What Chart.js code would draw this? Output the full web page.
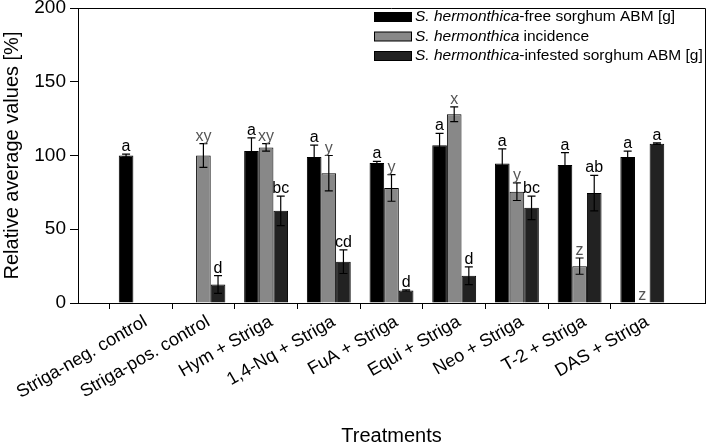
<!DOCTYPE html>
<html>
<head>
<meta charset="utf-8">
<script src="https://cdn.jsdelivr.net/npm/chart.js@4"></script>
<style>
  html, body { margin: 0; padding: 0; background: #fff; }
  #wrap { width: 708px; height: 446px; }
</style>
</head>
<body>
<div id="wrap"><canvas id="chart"></canvas></div>
<script>
const treatments = ['Striga-neg. control', 'Striga-pos. control', 'Hym + Striga', '1,4-Nq + Striga',
  'FuA + Striga', 'Equi + Striga', 'Neo + Striga', 'T-2 + Striga', 'DAS + Striga'];

const freeABM = [100, null, 103, 99, 95, 107, 94.5, 93.5, 99];
const freeErr = [1, null, 9, 8, 1, 8, 10, 8.5, 4];
const freeLetters = ['a', '', 'a', 'a', 'a', 'a', 'a', 'a', 'a'];

const incidence = [null, 100, 105.5, 88, 78, 128, 75.5, 25, 0];
const incErr = [null, 8, 2.5, 12, 9, 5, 6, 5.5, 0];
const incLetters = ['', 'xy', 'xy', 'y', 'y', 'x', 'y', 'z', 'z'];

const infestedABM = [null, 12.5, 62.5, 28, 8.5, 18.5, 64.5, 74.5, 108];
const infErr = [null, 6, 10, 8, 0.5, 6, 8, 12, 0.5];
const infLetters = ['', 'd', 'bc', 'cd', 'd', 'd', 'bc', 'ab', 'a'];

const yTicks = [0, 50, 100, 150, 200];

const legendItems = [
  { color: '#000000', italic: 'S. hermonthica', rest: '-free sorghum ABM [g]' },
  { color: '#888888', italic: 'S. hermonthica', rest: ' incidence' },
  { color: '#222222', italic: 'S. hermonthica', rest: '-infested sorghum ABM [g]' }
];

// pad with an empty slot at each end so the groups sit like the original
const pad = arr => [null, ...arr, null];
const FONT = '"Liberation Sans", Arial, sans-serif';

const errs = [freeErr, incErr, infErr];
const letters = [freeLetters, incLetters, infLetters];
const letterColors = ['#000', '#555', '#000'];

const extras = {
  id: 'extras',
  afterDatasetsDraw(chart) {
    const { ctx, chartArea: a, scales: { y } } = chart;
    ctx.save();
    chart.data.datasets.forEach((ds, di) => {
      const meta = chart.getDatasetMeta(di);
      meta.data.forEach((bar, i) => {
        const k = i - 1;
        if (k < 0 || k >= treatments.length) return;
        const v = ds.data[i];
        if (v === null || v === undefined) return;
        const e = errs[di][k] || 0;
        const x = bar.x;
        const yTop = y.getPixelForValue(v + e);
        if (e > 0) {
          const yBot = y.getPixelForValue(v - e);
          ctx.strokeStyle = '#000';
          ctx.lineWidth = 1.2;
          ctx.beginPath();
          ctx.moveTo(x, yTop); ctx.lineTo(x, yBot);
          ctx.moveTo(x - 4, yTop); ctx.lineTo(x + 4, yTop);
          ctx.moveTo(x - 4, yBot); ctx.lineTo(x + 4, yBot);
          ctx.stroke();
        }
        const txt = letters[di][k];
        if (txt) {
          ctx.fillStyle = letterColors[di];
          ctx.font = '16px ' + FONT;
          ctx.textAlign = 'center';
          ctx.textBaseline = 'alphabetic';
          ctx.fillText(txt, x, Math.min(yTop, y.getPixelForValue(v)) - 3);
        }
      });
    });

    // frame on top and right
    ctx.strokeStyle = '#000';
    ctx.lineWidth = 1;
    ctx.beginPath();
    ctx.moveTo(a.left, a.top + 0.5); ctx.lineTo(a.right + 0.5, a.top + 0.5);
    ctx.lineTo(a.right + 0.5, a.bottom);
    ctx.stroke();

    // legend with italic species name
    legendItems.forEach((it, i) => {
      const cy = 17 + i * 19.5;
      ctx.fillStyle = it.color;
      ctx.fillRect(374, cy - 4.5, 37, 9);
      ctx.strokeStyle = '#000';
      ctx.strokeRect(374.5, cy - 4.5, 37, 9);
      ctx.fillStyle = '#000';
      ctx.textAlign = 'left';
      ctx.textBaseline = 'middle';
      ctx.font = 'italic 15.5px ' + FONT;
      ctx.fillText(it.italic, 415, cy);
      const w = ctx.measureText(it.italic).width;
      ctx.font = '15.5px ' + FONT;
      ctx.fillText(it.rest, 415 + w, cy);
    });
    ctx.restore();
  }
};

new Chart(document.getElementById('chart'), {
  type: 'bar',
  data: {
    labels: ['', ...treatments, ''],
    datasets: [
      { label: 'free', data: pad(freeABM), backgroundColor: '#000000' },
      { label: 'incidence', data: pad(incidence), backgroundColor: '#888888' },
      { label: 'infested', data: pad(infestedABM), backgroundColor: '#222222' }
    ]
  },
  options: {
    responsive: true,
    maintainAspectRatio: false,
    animation: false,
    layout: { padding: { top: 8, right: 3, left: 0, bottom: 0 } },
    datasets: {
      bar: {
        categoryPercentage: 0.7,
        barPercentage: 1.0,
        borderColor: '#000',
        borderWidth: 1,
        borderSkipped: 'bottom'
      }
    },
    plugins: {
      legend: { display: false },
      tooltip: { enabled: false }
    },
    scales: {
      x: {
        offset: false,
        afterFit: s => { s.height = 143; s.paddingLeft = 0; s.paddingRight = 0; },
        border: { color: '#000', width: 1 },
        grid: {
          drawOnChartArea: false,
          tickLength: 6,
          color: c => (c.index === 0 || c.index === treatments.length + 1) ? 'rgba(0,0,0,0)' : '#000'
        },
        ticks: {
          autoSkip: false,
          minRotation: 30,
          maxRotation: 30,
          color: '#000',
          padding: 2,
          labelOffset: 5,
          font: { family: FONT, size: 18 }
        },
        title: {
          display: true,
          text: 'Treatments',
          color: '#000',
          font: { family: FONT, size: 20, lineHeight: 1 },
          padding: { top: 0, bottom: 0 }
        }
      },
      y: {
        min: 0,
        max: 200,
        afterFit: s => { s.width = 78; s.paddingTop = 0; s.paddingBottom = 0; },
        afterBuildTicks: s => { s.ticks = yTicks.map(v => ({ value: v })); },
        border: { color: '#000', width: 1 },
        grid: { drawOnChartArea: false, tickLength: 8, color: '#000' },
        ticks: {
          color: '#000',
          padding: 4,
          font: { family: FONT, size: 19 }
        },
        title: {
          display: true,
          text: 'Relative average values [%]',
          color: '#000',
          font: { family: FONT, size: 20 },
          padding: { top: 0, bottom: 0 }
        }
      }
    }
  },
  plugins: [extras]
});
</script>
</body>
</html>
